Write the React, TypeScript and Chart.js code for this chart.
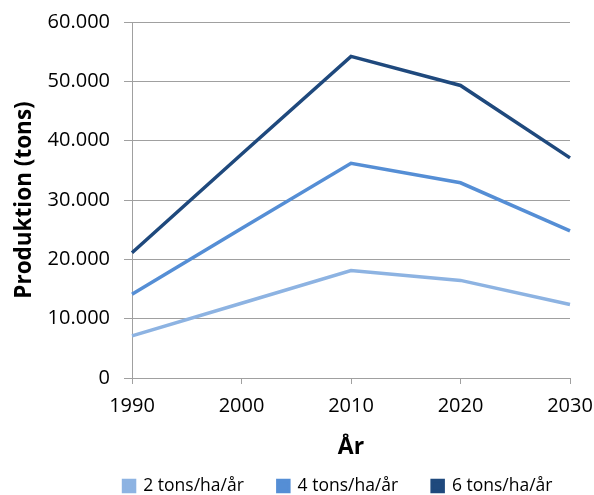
import { useEffect, useRef } from "react";
import { Chart, registerables } from "chart.js";

Chart.register(...registerables);

const years = ["1990", "2000", "2010", "2020", "2030"];
const seriesNames = ["2 tons/ha/år", "4 tons/ha/år", "6 tons/ha/år"];
const tons2 = [7100, 12600, 18100, 16450, 12400];
const tons4 = [14100, 25200, 36200, 32900, 24800];
const tons6 = [21100, 37700, 54200, 49300, 37100];
const seriesColors = ["#8DB3E2", "#558ED5", "#1F497D"];
const yMin = 0;
const yMax = 60000;
const yStep = 10000;
const xTitle = "År";
const yTitle = "Produktion (tons)";

const FONT = "'Open Sans', 'Noto Sans', sans-serif";
const GRID = "#A0A0A0";
const LEGEND_PAD = 34;
const LEGEND_FONT = 17.5;

const fmt = (v: number) => String(v).replace(/\B(?=(\d{3})+(?!\d))/g, ".");

const legendShift = {
  id: "legendShift",
  afterLayout(chart: any) {
    const l = chart.legend;
    if (l) {
      l.left += 41;
      l.right += 41;
      l.top = 486 - LEGEND_PAD - LEGEND_FONT / 2;
      l.bottom = chart.height;
    }
  },
};

export default function App() {
  const ref = useRef<HTMLCanvasElement | null>(null);
  useEffect(() => {
    document.body.style.margin = "0";
    const ctx = ref.current!;
    const data = [tons2, tons4, tons6];
    const chart = new Chart(ctx, {
      type: "line",
      data: {
        labels: years,
        datasets: seriesNames.map((n, i) => ({
          label: n,
          data: data[i],
          borderColor: seriesColors[i],
          backgroundColor: seriesColors[i],
          borderWidth: 3.5,
          pointRadius: 0,
          tension: 0,
          fill: false,
        })),
      },
      options: {
        animation: false,
        responsive: false,
        layout: { padding: { top: 0, left: 0, right: 0, bottom: 0 } },
        plugins: {
          tooltip: { enabled: false },
          legend: {
            position: "bottom",
            maxHeight: 34,
            labels: {
              boxWidth: 11,
              boxHeight: 11,
              padding: LEGEND_PAD,
              color: "#000",
              font: { family: FONT, size: LEGEND_FONT },
            },
          },
        },
        scales: {
          x: {
            type: "category",
            offset: false,
            afterFit: (s: any) => {
              s.height = 83;
              s.paddingRight = 24;
            },
            grid: {
              drawOnChartArea: false,
              drawTicks: true,
              tickLength: 6,
              color: GRID,
            },
            border: { display: true, color: GRID },
            ticks: {
              color: "#000",
              padding: 10,
              maxRotation: 0,
              font: { family: FONT, size: 20 },
            },
            title: {
              display: true,
              text: xTitle,
              color: "#000",
              padding: { top: 2, bottom: 0 },
              font: { family: FONT, size: 23, weight: "bold" },
            },
          },
          y: {
            min: yMin,
            max: yMax,
            afterFit: (s: any) => {
              s.width = 132;
              s.paddingTop = 22;
            },
            grid: {
              color: GRID,
              drawTicks: true,
              tickLength: 8,
            },
            border: { display: true, color: GRID },
            ticks: {
              stepSize: yStep,
              color: "#000",
              padding: 14,
              font: { family: FONT, size: 20 },
              callback: (v: any) => fmt(Number(v)),
            },
            title: {
              display: true,
              text: yTitle,
              color: "#000",
              padding: { top: 11, bottom: 0 },
              font: { family: FONT, size: 22.5, weight: "bold" },
            },
          },
        },
      },
      plugins: [legendShift],
    });
    return () => chart.destroy();
  }, []);
  return (
    <div style={{ position: "absolute", left: 0, top: 0, width: 594, height: 495 }}>
      <canvas ref={ref} width={594} height={495} style={{ width: 594, height: 495, display: "block" }} />
    </div>
  );
}
